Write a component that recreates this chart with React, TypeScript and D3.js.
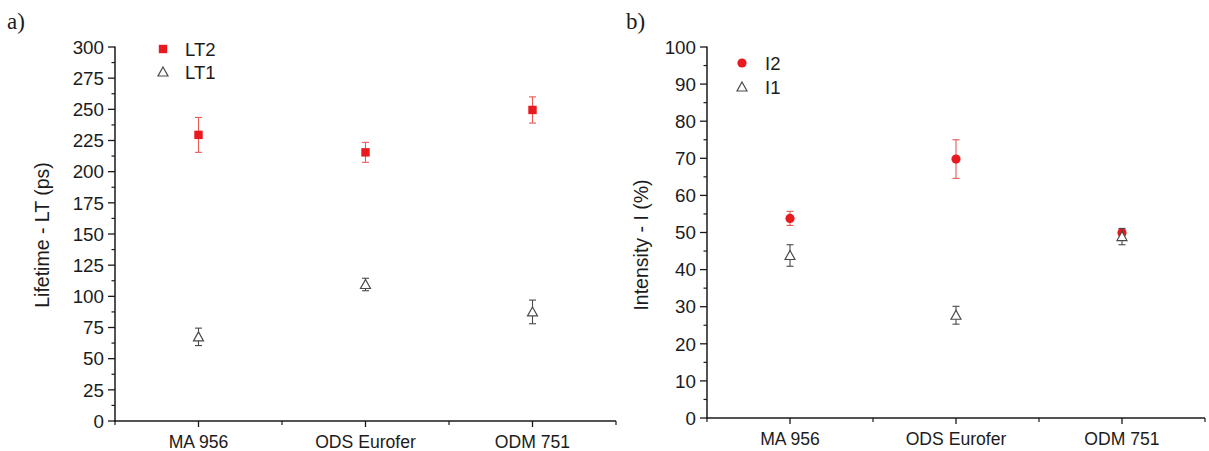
import React from "react";
import * as d3 from "d3";

const categories = ["MA 956", "ODS Eurofer", "ODM 751"];

// Panel a) lifetimes (ps)
const lt2Values = [229.5, 215.5, 249.5];
const lt2Errors = [14, 8, 10.5];
const lt1Values = [67.5, 109.5, 87.5];
const lt1Errors = [7, 5, 9.5];

// Panel b) intensities (%)
const i2Values = [53.8, 69.8, 49.9];
const i2Errors = [1.9, 5.2, 0.8];
const i1Values = [43.8, 27.7, 48.9];
const i1Errors = [2.9, 2.4, 2.2];

const leftTicks = [0, 25, 50, 75, 100, 125, 150, 175, 200, 225, 250, 275, 300];
const rightTicks = [0, 10, 20, 30, 40, 50, 60, 70, 80, 90, 100];

const RED = "#e8191f";
const RED_ERR = "#ea5a55";
const GRAY = "#4a4a4a";
const TXT = "#1c1c1c";
const FONT = "'Liberation Sans', Arial, sans-serif";
const TICK_FS = 18.8;
const CAT_FS = 17.6;
const TITLE_FS = 19.5;
const LEG_FS = 18.5;

type Series = {
  values: number[];
  errors: number[];
  kind: "square" | "circle" | "triangle";
};

function Marker({ kind, x, y }: { kind: string; x: number; y: number }) {
  if (kind === "square") {
    return <rect x={x - 4.2} y={y - 4.2} width={8.4} height={8.4} fill={RED} />;
  }
  if (kind === "circle") {
    return <circle cx={x} cy={y} r={4.6} fill={RED} />;
  }
  const s = 5;
  const p = `M${x},${y - s} L${x + s},${y + s * 0.8} L${x - s},${y + s * 0.8} Z`;
  return <path d={p} fill="white" stroke={GRAY} strokeWidth={1.2} />;
}

function Panel({
  x0,
  x1,
  yTop,
  yBottom,
  max,
  ticks,
  minorStep,
  series,
  title,
  titleX,
  titleY,
}: {
  x0: number;
  x1: number;
  yTop: number;
  yBottom: number;
  max: number;
  ticks: number[];
  minorStep: number;
  series: Series[];
  title: string;
  titleX: number;
  titleY: number;
}) {
  const x = d3.scaleBand<string>().domain(categories).range([x0, x1]).padding(0);
  const y = d3.scaleLinear().domain([0, max]).range([yBottom, yTop]);
  const minors = d3.range(minorStep / 2, max, minorStep);
  const bw = x.bandwidth();
  const boundaries = d3.range(0, categories.length + 1).map((i) => x0 + i * bw);
  return (
    <g>
      {/* y axis */}
      <line x1={x0} x2={x0} y1={y(max) - 0.5} y2={yBottom + 0.75} stroke="#1a1a1a" strokeWidth={1.5} />
      {ticks.map((t) => (
        <g key={"t" + t}>
          <line x1={x0 - 7} x2={x0} y1={y(t)} y2={y(t)} stroke="#1a1a1a" strokeWidth={1.3} />
          <text x={x0 - 11} y={y(t)} dy="0.36em" textAnchor="end" fontSize={TICK_FS} fontFamily={FONT} fill={TXT}>
            {t}
          </text>
        </g>
      ))}
      {minors.map((t) => (
        <line key={"m" + t} x1={x0 - 3.5} x2={x0} y1={y(t)} y2={y(t)} stroke="#1a1a1a" strokeWidth={1.2} />
      ))}
      {/* x axis */}
      <line x1={x0 - 0.75} x2={x1} y1={yBottom} y2={yBottom} stroke="#1a1a1a" strokeWidth={1.5} />
      {categories.map((c) => {
        const cx = (x(c) as number) + bw / 2;
        return (
          <g key={c}>
            <line x1={cx} x2={cx} y1={yBottom} y2={yBottom + 6} stroke="#1a1a1a" strokeWidth={1.3} />
            <text x={cx} y={yBottom + 27} textAnchor="middle" fontSize={CAT_FS} fontFamily={FONT} fill={TXT}>
              {c}
            </text>
          </g>
        );
      })}
      {boundaries.map((b, i) => (
        <line key={"b" + i} x1={b} x2={b} y1={yBottom} y2={yBottom + 4} stroke="#1a1a1a" strokeWidth={1.2} />
      ))}
      {/* title */}
      <text
        transform={`translate(${titleX},${titleY}) rotate(-90)`}
        textAnchor="middle"
        fontSize={TITLE_FS}
        fontFamily={FONT}
        fill={TXT}
      >
        {title}
      </text>
      {/* data */}
      {series.map((s, si) =>
        categories.map((c, i) => {
          const cx = (x(c) as number) + bw / 2;
          const v = s.values[i];
          const e = s.errors[i];
          const col = s.kind === "triangle" ? GRAY : RED_ERR;
          return (
            <g key={si + "-" + c}>
              <line x1={cx} x2={cx} y1={y(v + e)} y2={y(v - e)} stroke={col} strokeWidth={1.1} />
              <line x1={cx - 3.5} x2={cx + 3.5} y1={y(v + e)} y2={y(v + e)} stroke={col} strokeWidth={1.1} />
              <line x1={cx - 3.5} x2={cx + 3.5} y1={y(v - e)} y2={y(v - e)} stroke={col} strokeWidth={1.1} />
              <Marker kind={s.kind} x={cx} y={y(v)} />
            </g>
          );
        })
      )}
    </g>
  );
}

export default function App() {
  return (
    <svg
      width={1209}
      height={451}
      style={{ position: "absolute", left: 0, top: 0, display: "block", background: "white" }}
    >
      <rect x={0} y={0} width={1209} height={451} fill="white" />
      <text x={7} y={29} fontSize={23} fontFamily="'Liberation Serif', 'Times New Roman', serif" fill={TXT}>
        a)
      </text>
      <text x={626} y={29} fontSize={23} fontFamily="'Liberation Serif', 'Times New Roman', serif" fill={TXT}>
        b)
      </text>

      <Panel
        x0={115}
        x1={616}
        yTop={47}
        yBottom={421}
        max={300}
        ticks={leftTicks}
        minorStep={25}
        series={[
          { values: lt2Values, errors: lt2Errors, kind: "square" },
          { values: lt1Values, errors: lt1Errors, kind: "triangle" },
        ]}
        title="Lifetime - LT (ps)"
        titleX={49}
        titleY={235}
      />
      <Panel
        x0={707}
        x1={1205}
        yTop={47}
        yBottom={418}
        max={100}
        ticks={rightTicks}
        minorStep={10}
        series={[
          { values: i2Values, errors: i2Errors, kind: "circle" },
          { values: i1Values, errors: i1Errors, kind: "triangle" },
        ]}
        title="Intensity - I (%)"
        titleX={648}
        titleY={245}
      />

      {/* legends */}
      <Marker kind="square" x={163} y={49} />
      <text x={185} y={49} dy="0.36em" fontSize={LEG_FS} fontFamily={FONT} fill={TXT}>LT2</text>
      <Marker kind="triangle" x={163} y={72} />
      <text x={185} y={72} dy="0.36em" fontSize={LEG_FS} fontFamily={FONT} fill={TXT}>LT1</text>

      <Marker kind="circle" x={742} y={63} />
      <text x={765} y={63} dy="0.36em" fontSize={LEG_FS} fontFamily={FONT} fill={TXT}>I2</text>
      <Marker kind="triangle" x={742} y={87} />
      <text x={765} y={87} dy="0.36em" fontSize={LEG_FS} fontFamily={FONT} fill={TXT}>I1</text>
    </svg>
  );
}
